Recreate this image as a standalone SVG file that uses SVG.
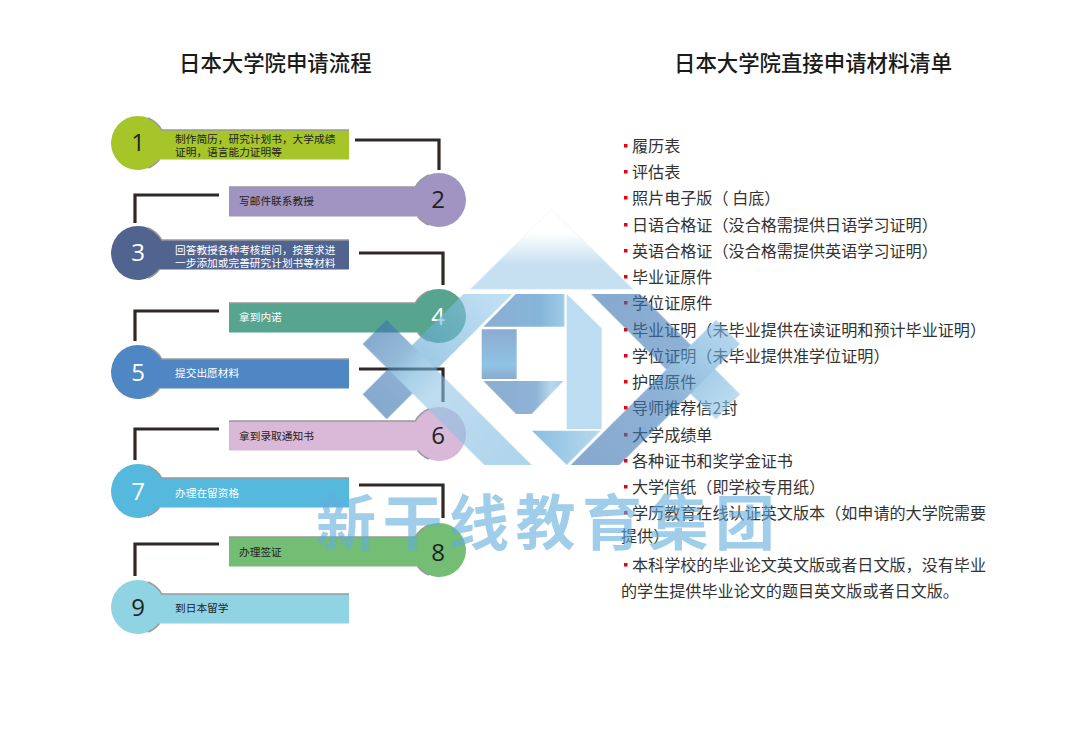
<svg xmlns="http://www.w3.org/2000/svg" width="1080" height="738" viewBox="0 0 1080 738">
<style>
text{font-family:"Noto Sans CJK SC","Noto Sans",sans-serif}
.title{font-size:21.4px;font-weight:500;fill:#1a1a1a}
.num{font-family:"Open Sans","Noto Sans",sans-serif;font-size:24px;font-weight:400;text-anchor:middle}
.lab{font-size:10.7px}
.d{fill:#222}
.w{fill:#fff}
.item{font-size:16.1px;fill:#333}
.bul{fill:#e60012}
.edge{fill:none;stroke:#999;stroke-width:1.5}
.conn{fill:none;stroke:#302826;stroke-width:3.2}
.wm{opacity:.6}
.wt{font-size:60px;font-weight:700;fill:#61acdc;letter-spacing:6.5px}
</style>
<defs>
<path id="sl" d="M23.7,-13H211V16.5H21.4A27,27 0 1 1 23.7,-13Z"/>
<path id="el" class="edge" d="M10,-25A27,27 0 0 1 23.7,-13H211M21.4,16.5A27,27 0 0 1 10,25"/>
<path id="sr" d="M-23.7,-13A27,27 0 1 1 -21.4,16.5H-210V-13Z"/>
<path id="er" class="edge" d="M-10,-25A27,27 0 0 0 -23.7,-13H-210M-21.4,16.5A27,27 0 0 0 -10,25"/>
<linearGradient id="gTop" x1="0" y1="0" x2="0" y2="1"><stop offset=".3" stop-color="#fff"/><stop offset=".68" stop-color="#a2cbe8"/></linearGradient>
<linearGradient id="gA" gradientUnits="userSpaceOnUse" x1="420" y1="290" x2="70" y2="620"><stop offset="0" stop-color="#94c8e9"/><stop offset=".55" stop-color="#61a8d5"/><stop offset=".72" stop-color="#417bb4"/><stop offset="1" stop-color="#3571af"/></linearGradient>
<linearGradient id="gB" gradientUnits="userSpaceOnUse" x1="70" y1="395" x2="480" y2="800"><stop offset="0" stop-color="#3571af"/><stop offset=".18" stop-color="#4b89be"/><stop offset=".3" stop-color="#6fb1dc"/><stop offset=".45" stop-color="#94c5e6"/><stop offset="1" stop-color="#7bb9df"/></linearGradient>
<linearGradient id="gC" gradientUnits="userSpaceOnUse" x1="790" y1="285" x2="1135" y2="620"><stop offset="0" stop-color="#3971af"/><stop offset=".6" stop-color="#4480bb"/><stop offset=".75" stop-color="#6bacd9"/><stop offset="1" stop-color="#8fc5e6"/></linearGradient>
<linearGradient id="gD" gradientUnits="userSpaceOnUse" x1="735" y1="795" x2="1135" y2="395"><stop offset="0" stop-color="#3971af"/><stop offset=".55" stop-color="#4480bb"/><stop offset=".72" stop-color="#5aa0d2"/><stop offset="1" stop-color="#84bce3"/></linearGradient>
<linearGradient id="gE" x1="0" y1="0" x2="1" y2="0"><stop offset="0" stop-color="#4176b4"/><stop offset=".7" stop-color="#3585c1"/><stop offset="1" stop-color="#61a8d7"/></linearGradient>
<linearGradient id="gF" x1="0" y1="0" x2="0" y2="1"><stop offset="0" stop-color="#4173b1"/><stop offset=".72" stop-color="#469dd2"/><stop offset="1" stop-color="#4173b1"/></linearGradient>
<linearGradient id="gG" x1="0" y1="0" x2="1" y2="0"><stop offset="0" stop-color="#4176b4"/><stop offset=".65" stop-color="#4480bb"/><stop offset=".85" stop-color="#87bee3"/><stop offset="1" stop-color="#66a8d5"/></linearGradient>
<linearGradient id="gH" x1="0" y1="0" x2="1" y2="0"><stop offset="0" stop-color="#3a94cb"/><stop offset="1" stop-color="#8ac0e3"/></linearGradient>
</defs>
<rect width="1080" height="738" fill="#fff"/>
<text class="title" x="179" y="71">日本大学院申请流程</text>
<text class="title" x="674" y="71">日本大学院直接申请材料清单</text>

<g id="connectors">
<path class="conn" d="M355,140H439V170"/>
<path class="conn" d="M219,195H135V223"/>
<path class="conn" d="M359,253H443V285"/>
<path class="conn" d="M219,311H135V341"/>
<path class="conn" d="M359,369H443V402"/>
<path class="conn" d="M219,429H135V460"/>
<path class="conn" d="M359,485H443V518"/>
<path class="conn" d="M219,544H135V576"/>
</g>

<g id="node1"><use href="#sl" x="138" y="143" fill="#a5c529"/><use href="#el" x="138" y="143"/><text class="num d" x="138" y="151">1</text><text class="lab d" x="175" y="143">制作简历，研究计划书，大学成绩</text><text class="lab d" x="175" y="156">证明，语言能力证明等</text></g>
<g id="node2"><use href="#sr" x="439" y="200" fill="#9f94c2"/><use href="#er" x="439" y="200"/><text class="num d" x="438" y="208">2</text><text class="lab d" x="239" y="205">写邮件联系教授</text></g>
<g id="node3"><use href="#sl" x="138" y="253" fill="#50648f"/><use href="#el" x="138" y="253"/><text class="num w" x="138" y="261">3</text><text class="lab w" x="175" y="254">回答教授各种考核提问，按要求进</text><text class="lab w" x="175" y="267">一步添加或完善研究计划书等材料</text></g>
<g id="node4"><use href="#sr" x="439" y="316" fill="#57a58e"/><use href="#er" x="439" y="316"/><text class="num w" x="438" y="325">4</text><text class="lab w" x="239" y="321">拿到内诺</text></g>
<g id="node5"><use href="#sl" x="138" y="372" fill="#4f86c4"/><use href="#el" x="138" y="372"/><text class="num w" x="138" y="381">5</text><text class="lab w" x="175" y="377">提交出愿材料</text></g>
<g id="node6"><use href="#sr" x="439" y="434" fill="#d9b8d8"/><use href="#er" x="439" y="434"/><text class="num d" x="438" y="444">6</text><text class="lab d" x="239" y="440">拿到录取通知书</text></g>
<g id="node7"><use href="#sl" x="138" y="491" fill="#55b9de"/><use href="#el" x="138" y="491"/><text class="num w" x="138" y="500">7</text><text class="lab w" x="175" y="497">办理在留资格</text></g>
<g id="node8"><use href="#sr" x="439" y="550" fill="#73bd75"/><use href="#er" x="439" y="550"/><text class="num d" x="438" y="561">8</text><text class="lab d" x="239" y="556">办理签证</text></g>
<g id="node9"><use href="#sl" x="138" y="607" fill="#90d3e3"/><use href="#el" x="138" y="607"/><text class="num d" x="138" y="616">9</text><text class="lab d" x="175" y="612">到日本留学</text></g>

<g id="list">
<g class="bul">
<rect x="624" y="144" width="3.5" height="3.5"/><rect x="624" y="170" width="3.5" height="3.5"/><rect x="624" y="196" width="3.5" height="3.5"/><rect x="624" y="223" width="3.5" height="3.5"/><rect x="624" y="249" width="3.5" height="3.5"/><rect x="624" y="275" width="3.5" height="3.5"/><rect x="624" y="301" width="3.5" height="3.5"/><rect x="624" y="328" width="3.5" height="3.5"/><rect x="624" y="354" width="3.5" height="3.5"/><rect x="624" y="380" width="3.5" height="3.5"/><rect x="624" y="406" width="3.5" height="3.5"/><rect x="624" y="433" width="3.5" height="3.5"/><rect x="624" y="459" width="3.5" height="3.5"/><rect x="624" y="485" width="3.5" height="3.5"/><rect x="624" y="511" width="3.5" height="3.5"/><rect x="624" y="563" width="3.5" height="3.5"/>
</g>
<text class="item" x="632" y="152">履历表</text>
<text class="item" x="632" y="178">评估表</text>
<text class="item" x="632" y="204">照片电子版（ 白底）</text>
<text class="item" x="632" y="231">日语合格证（没合格需提供日语学习证明）</text>
<text class="item" x="632" y="257">英语合格证（没合格需提供英语学习证明）</text>
<text class="item" x="632" y="283">毕业证原件</text>
<text class="item" x="632" y="309">学位证原件</text>
<text class="item" x="632" y="336">毕业证明（未毕业提供在读证明和预计毕业证明）</text>
<text class="item" x="632" y="362">学位证明（未毕业提供准学位证明）</text>
<text class="item" x="632" y="388">护照原件</text>
<text class="item" x="632" y="414">导师推荐信2封</text>
<text class="item" x="632" y="441">大学成绩单</text>
<text class="item" x="632" y="467">各种证书和奖学金证书</text>
<text class="item" x="632" y="493">大学信纸（即学校专用纸）</text>
<text class="item" x="632" y="519">学历教育在线认证英文版本（如申请的大学院需要</text>
<text class="item" x="621" y="542">提供）</text>
<text class="item" x="632" y="571">本科学校的毕业论文英文版或者日文版，没有毕业</text>
<text class="item" x="621" y="597">的学生提供毕业论文的题目英文版或者日文版。</text>
</g>

<g id="watermark" class="wm">
<g transform="translate(350,200) scale(.33333)">
<polygon fill="url(#gTop)" stroke="#d3e7f4" stroke-width="2" points="605,28 850,268 360,268"/>
<polygon fill="url(#gA)" points="340,282 487,282 110,658 38,583"/>
<polygon fill="url(#gB)" points="110,360 545,795 403,795 38,432"/>
<polygon fill="url(#gC)" points="723,282 870,282 1170,583 1098,658"/>
<polygon fill="url(#gD)" points="1098,360 1170,432 808,795 662,795"/>
<polygon fill="url(#gE)" points="400,380 497,282 643,282 643,380"/>
<polygon fill="url(#gF)" points="395,388 500,388 500,537 395,537"/>
<polygon fill="url(#gG)" points="400,543 640,543 545,642 498,642"/>
<polygon fill="#8fc5e9" points="650,282 755,385 755,687 650,687"/>
<polygon fill="url(#gH)" points="546,692 752,692 650,795"/>
</g>
<text class="wt" x="316" y="545">新干线教育集团</text>
</g>
</svg>
